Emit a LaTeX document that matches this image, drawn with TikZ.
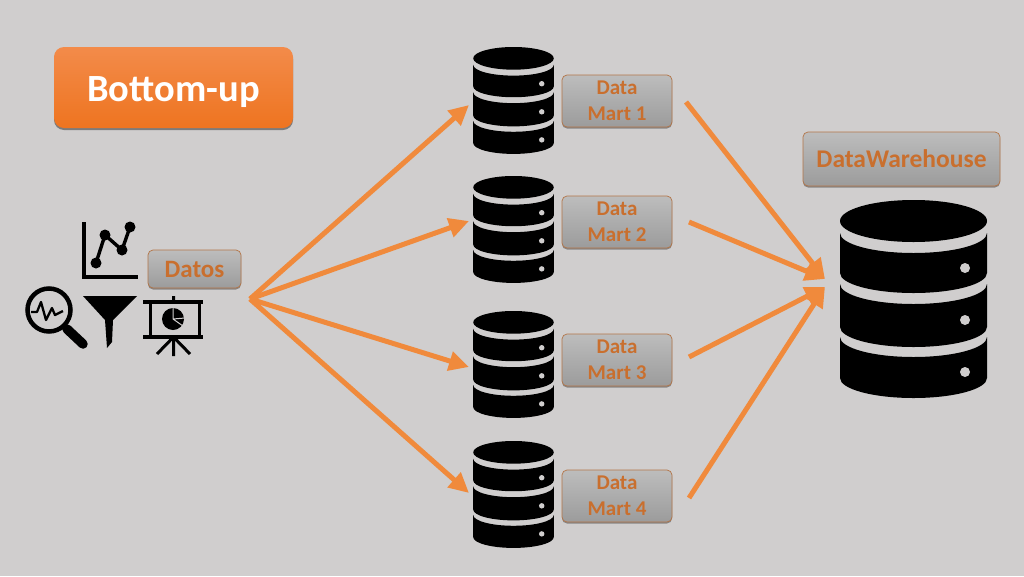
\documentclass[tikz,border=0pt]{standalone}
\usepackage{fontspec}
\setmainfont{Carlito}
\usetikzlibrary{arrows.meta,shadows}
\definecolor{bgc}{HTML}{D0CECE}
\definecolor{org}{HTML}{F08A3C}
\definecolor{txto}{HTML}{C96F2E}
\definecolor{ortop}{HTML}{F38B4A}
\definecolor{orbot}{HTML}{EE7420}
\tikzset{
 x=1pt,y=1pt,
 graybox/.style={rounded corners=5pt,draw=txto!70!gray,line width=.7pt,top color=gray!52,bottom color=gray!78,text=txto,
   font=\bfseries,align=center,inner sep=0pt,
   drop shadow={shadow xshift=0pt,shadow yshift=-1.5pt,fill=black,opacity=.35}},
 orangebox/.style={rounded corners=10pt,top color=ortop,bottom color=orbot,text=white,
   font=\bfseries\fontsize{38.5}{40}\selectfont,inner sep=0pt,
   drop shadow={shadow xshift=0pt,shadow yshift=-2pt,fill=black,opacity=.4}},
 flow/.style={draw=org,line width=5pt,-{Triangle[length=20pt,width=19pt]}},
 ico/.style={line width=4.5pt,draw=black},
 martfont/.style={font=\bfseries\fontsize{21}{25.5}\selectfont},
}
\newcommand{\dbicon}[5]{% name, cx, top, sx, sy
 \begin{scope}[shift={(#2,-#3)},xscale=#4,yscale=#5]
  \fill[black] (0,-21) ellipse[x radius=73.5pt,y radius=21pt];
  \fill[black] (-73.5,-33) arc[start angle=180,end angle=360,x radius=73.5pt,y radius=20pt] -- (73.5,-73) arc[start angle=0,end angle=-180,x radius=73.5pt,y radius=20pt] -- cycle;
  \fill[black] (-73.5,-84) arc[start angle=180,end angle=360,x radius=73.5pt,y radius=20pt] -- (73.5,-127) arc[start angle=0,end angle=-180,x radius=73.5pt,y radius=20pt] -- cycle;
  \fill[black] (-73.5,-137) arc[start angle=180,end angle=360,x radius=73.5pt,y radius=20pt] -- (73.5,-178) arc[start angle=0,end angle=-180,x radius=73.5pt,y radius=20pt] -- cycle;
  \fill[bgc] (51.5,-68) circle[radius=5pt] (51.5,-120) circle[radius=5pt] (51.5,-172) circle[radius=5pt];
  \node[inner sep=0pt,minimum width=147pt,minimum height=198pt] (#1) at (0,-99) {};
 \end{scope}}
\newcommand{\gbox}[7]{% name,x0,y0,x1,y1,style,text
 \node[graybox,#6,minimum width=#4pt-#2pt,minimum height=#5pt-#3pt] (#1) at ({(#2+#4)/2},{-(#3+#5)/2}) {#7};}
\begin{document}
\begin{tikzpicture}
\fill[bgc] (0,0) rectangle (1024,-576);
\useasboundingbox (0,0) rectangle (1024,-576);
% title
\node[orangebox,minimum width=239pt,minimum height=81pt,text depth=0pt] (title) at (173.5,-87.5) {\raisebox{-4pt}{Bottom-up}};
% icons
\draw[ico] (84,-222) -- (84,-277) -- (138,-277);
\draw[line width=3.4pt] (96,-263) -- (105,-235) -- (122,-250) -- (130,-227);
\fill (96,-263) circle[radius=5.5pt] (105,-235) circle[radius=5.5pt] (122,-250) circle[radius=5.5pt] (130,-227) circle[radius=5.5pt];
\draw[ico] (49,-310) circle[radius=21.5pt];
\draw[line width=9.5pt,line cap=round] (67,-329) -- (83,-344);
\draw[line width=2.3pt,line join=round] (31,-312) -- (37,-312) -- (41,-302) -- (46,-320) -- (52,-308) -- (55,-315) -- (63,-311);
\fill (83,-296) -- (137,-296) -- (113,-320) -- (112,-342) -- (107,-348) -- (105,-320) -- cycle;
\draw[line width=3.4pt] (143,-302) -- (203,-302) (143,-337) -- (203,-337);
\draw[line width=3pt] (150,-302) -- (150,-337) (199,-302) -- (199,-337);
\draw[line width=3pt] (173.5,-296) -- (173.5,-302) (173.5,-337) -- (173.5,-356) (173.5,-337) -- (157,-354) (173.5,-337) -- (190,-354);
\fill (173,-319) circle[radius=11pt];
\draw[bgc,line width=1pt] (173,-319) -- (173,-307) (173,-319) -- (185,-318) (173,-319) -- (183,-326);
% boxes
\gbox{datos}{148}{250}{241}{288}{font=\bfseries\fontsize{25}{27}\selectfont}{Datos}
\gbox{dm1}{562}{75}{672}{127}{martfont}{Data\\Mart 1}
\gbox{dm2}{562}{196}{672}{248}{martfont}{Data\\Mart 2}
\gbox{dm3}{562}{334}{672}{386}{martfont}{Data\\Mart 3}
\gbox{dm4}{562}{470}{672}{522}{martfont}{Data\\Mart 4}
\gbox{dw}{803}{132}{1000}{186}{font=\bfseries\fontsize{25.5}{27}\selectfont}{DataWarehouse}
% databases
\dbicon{db1}{513.5}{47}{.548}{.54}
\dbicon{db2}{513.5}{176}{.548}{.54}
\dbicon{db3}{513.5}{311}{.548}{.54}
\dbicon{db4}{513.5}{441}{.548}{.54}
\dbicon{dbw}{913.5}{200}{1}{1}
% connectors
\coordinate (src) at (250,-299);
\coordinate (in1) at (469,-105);
\coordinate (in2) at (469,-221);
\coordinate (in3) at (469,-367);
\coordinate (in4) at (469,-493);
\coordinate (o1) at (686,-102);
\coordinate (o2) at (689,-222);
\coordinate (o3) at (689,-357);
\coordinate (o4) at (689,-498);
\coordinate (wa) at (825,-279);
\coordinate (wb) at (825,-287);
\draw[flow] (src) -- (in1);
\draw[flow] (src) -- (in2);
\draw[flow] (src) -- (in3);
\draw[flow] (src) -- (in4);
\draw[flow] (o1) -- (wa);
\draw[flow] (o2) -- (wa);
\draw[flow] (o3) -- (wb);
\draw[flow] (o4) -- (wb);
\end{tikzpicture}
\end{document}
